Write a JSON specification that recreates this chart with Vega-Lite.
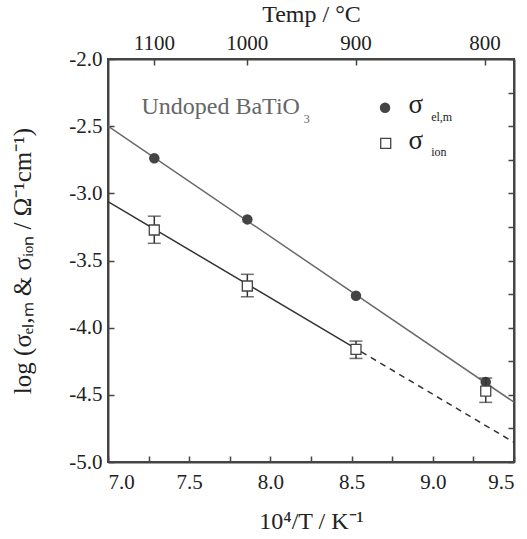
{
  "$schema": "https://vega.github.io/schema/vega-lite/v6.json",
  "width": 406,
  "height": 403,
  "autosize": {"type": "none"},
  "padding": {"left": 108, "top": 59, "right": 13, "bottom": 77},
  "background": "white",
  "config": {
    "font": "Liberation Serif",
    "view": {"stroke": "#444", "strokeWidth": 2},
    "axis": {"grid": false, "domainColor": "#444", "domainWidth": 2, "tickColor": "#444", "tickWidth": 1.5, "labelFont": "Liberation Serif", "titleFont": "Liberation Serif", "labelColor": "#222", "titleColor": "#222", "titleFontWeight": "normal"}
  },
  "resolve": {"scale": {"x": "independent", "y": "independent"}},
  "layer": [
    {
      "layer": [
        {
          "data": {"values": [{"x": 7.0, "y": -2.5}, {"x": 9.5, "y": -4.555}]},
          "mark": {"type": "line", "color": "#6a6a6a", "strokeWidth": 1.5},
          "encoding": {
            "x": {"field": "x", "type": "quantitative", "scale": {"domain": [7, 9.5], "nice": false, "zero": false},
              "axis": {"orient": "bottom", "values": [7, 7.25, 7.5, 7.75, 8, 8.25, 8.5, 8.75, 9, 9.25, 9.5], "labelExpr": "datum.value * 2 % 1 == 0 ? format(datum.value, '.1f') : ''", "tickSize": -6, "labelPadding": 15, "labelFontSize": 21, "title": "10⁴/T / K⁻¹", "titleFontSize": 24, "titlePadding": 17}},
            "y": {"field": "y", "type": "quantitative", "scale": {"domain": [-5, -2], "nice": false, "zero": false},
              "axis": {"orient": "left", "values": [-5, -4.75, -4.5, -4.25, -4, -3.75, -3.5, -3.25, -3, -2.75, -2.5, -2.25, -2], "labelExpr": "datum.value * 2 % 1 == 0 ? replace(format(datum.value, '.1f'), '−', '-') : ''", "tickSize": -6, "labelPadding": 12, "labelFontSize": 21, "title": "log (σₑₗ,ₘ & σᵢₒₙ / Ω⁻¹cm⁻¹)", "titleFontSize": 25, "titlePadding": 33}}
          }
        },
        {
          "data": {"values": [{"x": 7.0, "y": -3.062}, {"x": 8.56, "y": -4.18}]},
          "mark": {"type": "line", "color": "#333", "strokeWidth": 1.5},
          "encoding": {"x": {"field": "x", "type": "quantitative"}, "y": {"field": "y", "type": "quantitative"}}
        },
        {
          "data": {"values": [{"x": 8.56, "y": -4.18}, {"x": 9.5, "y": -4.854}]},
          "mark": {"type": "line", "color": "#333", "strokeWidth": 1.5, "strokeDash": [6, 5]},
          "encoding": {"x": {"field": "x", "type": "quantitative"}, "y": {"field": "y", "type": "quantitative"}}
        },
        {
          "data": {"values": [{"x": 7.285, "y": -2.739}, {"x": 7.858, "y": -3.194}, {"x": 8.527, "y": -3.762}, {"x": 9.326, "y": -4.405}]},
          "mark": {"type": "point", "shape": "circle", "filled": true, "color": "#444", "size": 110, "opacity": 1},
          "encoding": {"x": {"field": "x", "type": "quantitative"}, "y": {"field": "y", "type": "quantitative"}}
        },
        {
          "data": {"name": "ion"},
          "mark": {"type": "rule", "color": "#333", "strokeWidth": 1.5},
          "encoding": {"x": {"field": "x", "type": "quantitative"}, "y": {"field": "lo", "type": "quantitative"}, "y2": {"field": "hi"}}
        },
        {
          "data": {"name": "ion"},
          "mark": {"type": "tick", "color": "#333", "thickness": 1.5, "size": 13, "orient": "horizontal"},
          "encoding": {"x": {"field": "x", "type": "quantitative"}, "y": {"field": "lo", "type": "quantitative"}}
        },
        {
          "data": {"name": "ion"},
          "mark": {"type": "tick", "color": "#333", "thickness": 1.5, "size": 13, "orient": "horizontal"},
          "encoding": {"x": {"field": "x", "type": "quantitative"}, "y": {"field": "hi", "type": "quantitative"}}
        },
        {
          "data": {"name": "ion"},
          "mark": {"type": "point", "shape": "square", "filled": true, "fill": "white", "stroke": "#444", "strokeWidth": 1.3, "size": 100, "opacity": 1},
          "encoding": {"x": {"field": "x", "type": "quantitative"}, "y": {"field": "y", "type": "quantitative"}}
        },
        {
          "data": {"values": [{"x": 8.706, "y": -2.363}]},
          "mark": {"type": "point", "shape": "circle", "filled": true, "color": "#444", "size": 110, "opacity": 1},
          "encoding": {"x": {"field": "x", "type": "quantitative"}, "y": {"field": "y", "type": "quantitative"}}
        },
        {
          "data": {"values": [{"x": 8.71, "y": -2.628}]},
          "mark": {"type": "point", "shape": "square", "filled": true, "fill": "white", "stroke": "#444", "strokeWidth": 1.3, "size": 100, "opacity": 1},
          "encoding": {"x": {"field": "x", "type": "quantitative"}, "y": {"field": "y", "type": "quantitative"}}
        },
        {
          "data": {"values": [{"x": 8.85, "y": -2.345, "t": "σ"}, {"x": 8.85, "y": -2.61, "t": "σ"}]},
          "mark": {"type": "text", "align": "left", "baseline": "middle", "fontSize": 27, "color": "#222"},
          "encoding": {"x": {"field": "x", "type": "quantitative"}, "y": {"field": "y", "type": "quantitative"}, "text": {"field": "t"}}
        },
        {
          "data": {"values": [{"x": 8.99, "y": -2.43, "t": "el,m"}, {"x": 8.99, "y": -2.69, "t": "ion"}]},
          "mark": {"type": "text", "align": "left", "baseline": "middle", "fontSize": 12, "color": "#222"},
          "encoding": {"x": {"field": "x", "type": "quantitative"}, "y": {"field": "y", "type": "quantitative"}, "text": {"field": "t"}}
        },
        {
          "data": {"values": [{"x": 7.206, "y": -2.355, "t": "Undoped BaTiO"}]},
          "mark": {"type": "text", "align": "left", "baseline": "middle", "fontSize": 24, "color": "#666"},
          "encoding": {"x": {"field": "x", "type": "quantitative"}, "y": {"field": "y", "type": "quantitative"}, "text": {"field": "t"}}
        },
        {
          "data": {"values": [{"x": 8.205, "y": -2.45, "t": "3"}]},
          "mark": {"type": "text", "align": "left", "baseline": "middle", "fontSize": 12, "color": "#666"},
          "encoding": {"x": {"field": "x", "type": "quantitative"}, "y": {"field": "y", "type": "quantitative"}, "text": {"field": "t"}}
        }
      ]
    },
    {
      "data": {"values": [{"t": 1100}, {"t": 1000}, {"t": 900}, {"t": 800}]},
      "mark": {"type": "rule", "opacity": 0},
      "encoding": {
        "x": {"field": "t", "type": "quantitative", "scale": {"domain": [7, 9.5], "nice": false, "zero": false},
          "axis": {"orient": "top", "values": [7.2829, 7.8545, 8.5241, 9.3184], "labelExpr": "format(round(10000 / datum.value - 273.15), 'd')", "tickSize": -6, "labelPadding": 12, "labelFontSize": 21, "title": "Temp / °C", "titleFontSize": 24, "titlePadding": 6}}
      }
    },
    {
      "data": {"values": [{"v": -3}]},
      "mark": {"type": "rule", "opacity": 0},
      "encoding": {
        "y": {"field": "v", "type": "quantitative", "scale": {"domain": [-5, -2], "nice": false, "zero": false},
          "axis": {"orient": "right", "values": [-5, -4.75, -4.5, -4.25, -4, -3.75, -3.5, -3.25, -3, -2.75, -2.5, -2.25, -2], "labels": false, "tickSize": -6, "title": null}}
      }
    }
  ],
  "datasets": {
    "ion": [
      {"x": 7.285, "y": -3.273, "lo": -3.372, "hi": -3.17},
      {"x": 7.858, "y": -3.69, "lo": -3.77, "hi": -3.603},
      {"x": 8.527, "y": -4.162, "lo": -4.229, "hi": -4.10},
      {"x": 9.326, "y": -4.472, "lo": -4.556, "hi": -4.375}
    ]
  }
}
